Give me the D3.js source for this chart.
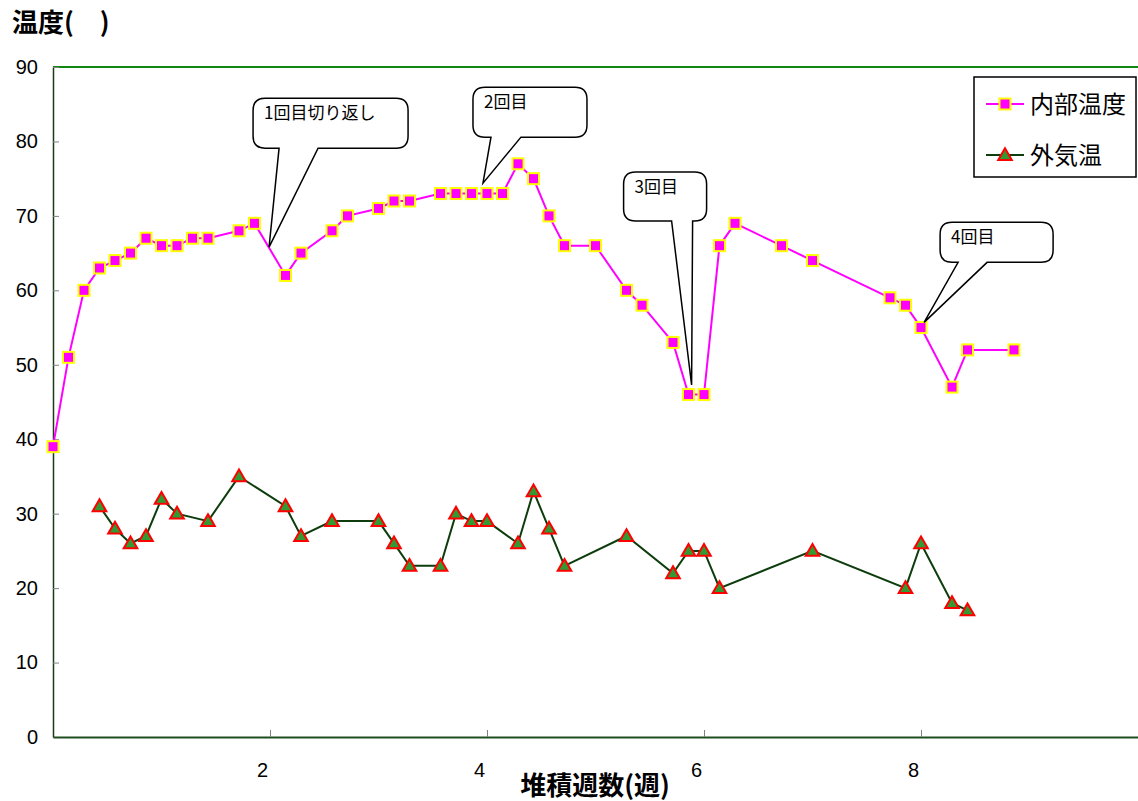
<!doctype html>
<html>
<head>
<meta charset="utf-8">
<script src="https://d3js.org/d3.v7.min.js"></script>
<style>
  body { margin: 0; background: #fff; }
  text { font-family: "Liberation Sans", Arial, sans-serif; }
  .jp { font-family: "Noto Sans CJK JP", sans-serif; }
</style>
</head>
<body>
<svg width="1138" height="801"></svg>
<script>
// days since start (x axis is in weeks = day / 7)
var innerDays = [0,1,2,3,4,5,6,7,8,9,10,12,13,15,16,18,19,21,22,23,25,26,27,28,29,30,31,32,33,35,37,38,40,41,42,43,44,47,49,54,55,56,58,59,62];
var innerTemp = [39,51,60,63,64,65,67,66,66,67,67,68,69,62,65,68,70,71,72,72,73,73,73,73,73,77,75,70,66,66,60,58,53,46,46,66,69,66,64,59,58,55,47,52,52];
var outerDays = [3,4,5,6,7,8,10,12,15,16,18,21,22,23,25,26,27,28,30,31,32,33,37,40,41,42,43,49,55,56,58,59];
var outerTemp = [31,28,26,27,32,30,29,35,31,27,29,29,26,23,23,30,29,29,26,33,28,23,27,22,25,25,20,25,20,26,18,17];
var xTicks = [2,4,6,8];
var yTicks = [0,10,20,30,40,50,60,70,80,90];
var seriesNames = ["内部温度", "外気温"];
// callouts: tip in data units (day, temp)
var calloutText = ["1回目切り返し", "2回目", "3回目", "4回目"];
var calloutTip = [[13.94,65.8],[27.74,74.4],[41.2,47.3],[56.2,55.7]];

var svg = d3.select("svg");
var x = d3.scaleLinear().domain([0,10]).range([53,1138]);
var y = d3.scaleLinear().domain([0,90]).range([737,67]);

// top border
svg.append("line").attr("x1",53).attr("x2",1138).attr("y1",67).attr("y2",67)
   .attr("stroke","#118811").attr("stroke-width",2);

// y axis
var gy = svg.append("g").attr("transform","translate(53,0)")
   .call(d3.axisLeft(y).tickValues(yTicks).tickSizeInner(-6).tickSizeOuter(0).tickPadding(15));
gy.select(".domain").attr("stroke","#1a3a1a").attr("stroke-width",1.5);
gy.selectAll(".tick line").attr("stroke","#808080");
gy.selectAll(".tick text").attr("font-size",20).attr("fill","#000").style("font-family","Liberation Sans");

// x axis
var gx = svg.append("g").attr("transform","translate(0,737)")
   .call(d3.axisBottom(x).tickValues(xTicks).tickSizeInner(-7).tickSizeOuter(0).tickPadding(26));
gx.select(".domain").attr("stroke","#1e4d1e").attr("stroke-width",2);
gx.selectAll(".tick line").attr("stroke","#808080");
gx.selectAll(".tick text").attr("font-size",20).attr("fill","#000").attr("dx",-8).style("font-family","Liberation Sans");

// titles
svg.append("text").attr("class","jp").attr("x",12).attr("y",32)
   .attr("font-size",26).attr("font-weight","bold").style("white-space","pre")
   .text("温度(\u3000)");
svg.append("text").attr("class","jp").attr("x",595).attr("y",795)
   .attr("text-anchor","middle").attr("font-size",26).attr("font-weight","bold")
   .text("堆積週数(週)");

var inner = innerDays.map(function(d,i){return [d/7, innerTemp[i]];});
var outer = outerDays.map(function(d,i){return [d/7, outerTemp[i]];});
var line = d3.line().x(function(d){return x(d[0]);}).y(function(d){return y(d[1]);});

// outside temperature
svg.append("path").datum(outer).attr("d",line).attr("fill","none")
   .attr("stroke","#0d3d0d").attr("stroke-width",2);
var tri = d3.symbol().type(d3.symbolTriangle).size(80);
svg.append("g").selectAll("path").data(outer).enter().append("path")
   .attr("d",tri)
   .attr("transform",function(d){return "translate("+x(d[0])+","+(y(d[1])+1)+")";})
   .attr("fill","#339933").attr("stroke","#ff0000").attr("stroke-width",2);

// inside temperature
svg.append("path").datum(inner).attr("d",line).attr("fill","none")
   .attr("stroke","#ff00ff").attr("stroke-width",2);
svg.append("g").selectAll("rect").data(inner).enter().append("rect")
   .attr("x",function(d){return x(d[0])-5.5;})
   .attr("y",function(d){return y(d[1])-5.5;})
   .attr("width",11).attr("height",11)
   .attr("fill","#ff00ff").attr("stroke","#ffff00").attr("stroke-width",2);

// callouts (box offset from tip, px)
var calloutBox = [
  {dx:-16, dy:-149, w:155, h:50, b1:26, b2:65},
  {dx:-10, dy:-96,  w:114, h:50, b1:18, b2:48},
  {dx:-68, dy:-213, w:83,  h:49, b1:48, b2:69},
  {dx:16,  dy:-100, w:113, h:40, b1:18, b2:47}
];
calloutText.forEach(function(t,i){
  var tx = x(calloutTip[i][0]/7), ty = y(calloutTip[i][1]);
  var b = calloutBox[i];
  var l = tx+b.dx, tp = ty+b.dy, r = l+b.w, bt = tp+b.h, rr = 12;
  var p = d3.path();
  p.moveTo(l+rr,tp); p.lineTo(r-rr,tp);
  p.quadraticCurveTo(r,tp,r,tp+rr); p.lineTo(r,bt-rr);
  p.quadraticCurveTo(r,bt,r-rr,bt); p.lineTo(l+b.b2,bt);
  p.lineTo(tx,ty); p.lineTo(l+b.b1,bt); p.lineTo(l+rr,bt);
  p.quadraticCurveTo(l,bt,l,bt-rr); p.lineTo(l,tp+rr);
  p.quadraticCurveTo(l,tp,l+rr,tp); p.closePath();
  svg.append("path").attr("d",p.toString()).attr("fill","#fff")
     .attr("stroke","#000").attr("stroke-width",1.5);
  svg.append("text").attr("class","jp").attr("x",l+11).attr("y",tp+21)
     .attr("font-size",17).text(t);
});

// legend
var lg = svg.append("g");
lg.append("rect").attr("x",974).attr("y",77).attr("width",162).attr("height",100)
  .attr("fill","#fff").attr("stroke","#000").attr("stroke-width",1.5);
var ly = [104,155];
lg.append("line").attr("x1",986).attr("x2",1024).attr("y1",ly[0]).attr("y2",ly[0])
  .attr("stroke","#ff00ff").attr("stroke-width",2);
lg.append("rect").attr("x",999.5).attr("y",ly[0]-5.5).attr("width",11).attr("height",11)
  .attr("fill","#ff00ff").attr("stroke","#ffff00").attr("stroke-width",2);
lg.append("line").attr("x1",986).attr("x2",1024).attr("y1",ly[1]).attr("y2",ly[1])
  .attr("stroke","#0d3d0d").attr("stroke-width",2);
lg.append("path").attr("d",tri).attr("transform","translate(1005,"+(ly[1]+1)+")")
  .attr("fill","#339933").attr("stroke","#ff0000").attr("stroke-width",2);
seriesNames.forEach(function(n,i){
  lg.append("text").attr("class","jp").attr("x",1030).attr("y",ly[i]+9)
    .attr("font-size",24).text(n);
});
</script>
</body>
</html>
